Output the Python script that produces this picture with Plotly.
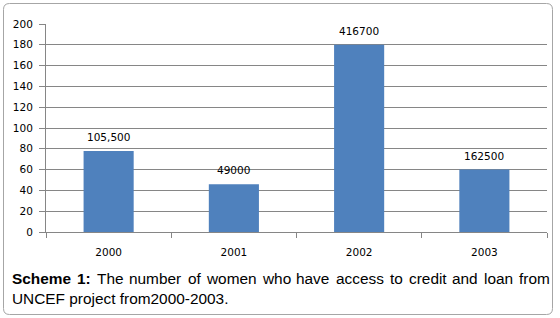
import plotly.graph_objects as go

years = ["2000", "2001", "2002", "2003"]
values = [78, 46, 180, 60]
labels = ["105,500", "49000", "416700", "162500"]
y_ticks = [0, 20, 40, 60, 80, 100, 120, 140, 160, 180, 200]
caption_bold = ["Scheme", "1:"]
caption_line1 = "The number of women who have access to credit and loan from"
caption_line2 = "UNCEF project from2000-2003."

W, H = 560, 318
L, R, T, B = 46, 13, 24, 86
pw, ph = W - L - R, H - T - B

def px(x):
    return (x - L) / pw

def py(y):
    return (H - B - y) / ph

# Arial / Liberation Sans advance widths (1/1000 em) for justifying line 1
REG = {'T': 611, 'h': 556, 'e': 556, 'n': 556, 'u': 556, 'm': 833, 'b': 556, 'r': 333,
       'o': 556, 'f': 278, 'w': 722, 'a': 556, 'v': 500, 'c': 500, 's': 500, 't': 278,
       'd': 556, 'i': 222, 'l': 222}
BOLD = {'S': 667, 'c': 556, 'h': 611, 'e': 556, 'm': 889, '1': 556, ':': 333}

CAP_FONT = 15.4
CAP_FAMILY = "Liberation Sans"
PAD = 2  # annotation box padding in px

def word_width(word, bold):
    table = BOLD if bold else REG
    return sum(table.get(ch, 556) for ch in word) / 1000 * CAP_FONT

words = [(w, True) for w in caption_bold] + [(w, False) for w in caption_line1.split(" ")]
left_px, right_px = 12, 550
total = sum(word_width(w, b) for w, b in words)
gap = (right_px - left_px - total) / (len(words) - 1)

annotations = []
cx = left_px
for w, b in words:
    annotations.append(dict(
        text=f"<b>{w}</b>" if b else w, xref="paper", yref="paper", x=px(cx - PAD), y=py(278),
        xanchor="left", yanchor="middle", showarrow=False,
        font=dict(family=CAP_FAMILY, size=CAP_FONT, color="#000000")))
    cx += word_width(w, b) + gap
annotations.append(dict(
    text=caption_line2, xref="paper", yref="paper", x=px(12 - PAD), y=py(298),
    xanchor="left", yanchor="middle", showarrow=False,
    font=dict(family=CAP_FAMILY, size=CAP_FONT, color="#000000")))

# value labels above bars (category axis: x given as category index)
for i, (v, lab) in enumerate(zip(values, labels)):
    annotations.append(dict(
        text=lab, x=i, y=v, xref="x", yref="y", xanchor="center", yanchor="bottom",
        yshift=6, showarrow=False,
        font=dict(family="DejaVu Sans", size=10.5, color="#000000")))

fig = go.Figure(go.Bar(
    x=years, y=values,
    marker=dict(color="#4F81BD", line=dict(width=0)),
    width=0.4, hoverinfo="x+y",
))

x0, x1, y0, y1, r = 3.5, 552.5, 3.5, 314.5, 6
path = (f"M {px(x0+r)},{py(y0)} L {px(x1-r)},{py(y0)} Q {px(x1)},{py(y0)} {px(x1)},{py(y0+r)} "
        f"L {px(x1)},{py(y1-r)} Q {px(x1)},{py(y1)} {px(x1-r)},{py(y1)} "
        f"L {px(x0+r)},{py(y1)} Q {px(x0)},{py(y1)} {px(x0)},{py(y1-r)} "
        f"L {px(x0)},{py(y0+r)} Q {px(x0)},{py(y0)} {px(x0+r)},{py(y0)} Z")

fig.update_layout(
    width=W, height=H,
    margin=dict(l=L, r=R, t=T, b=B, pad=0),
    paper_bgcolor="white", plot_bgcolor="white",
    showlegend=False,
    font=dict(family="DejaVu Sans", size=10.5, color="#000000"),
    xaxis=dict(
        type="category", categoryorder="array", categoryarray=years,
        range=[-0.5, len(years) - 0.5],
        showgrid=False, showline=True, linecolor="#868686", linewidth=1,
        ticks="outside", tickson="boundaries", ticklen=5, tickcolor="#868686",
        tickfont=dict(family="DejaVu Sans", size=10.5, color="#000000"),
        ticklabelstandoff=10,
    ),
    yaxis=dict(
        range=[0, 200], tickvals=y_ticks, showgrid=True, gridcolor="#868686", gridwidth=1,
        showline=True, linecolor="#868686", linewidth=1,
        ticks="outside", ticklen=6, tickcolor="#868686",
        tickfont=dict(family="DejaVu Sans", size=10.5, color="#000000"),
        ticklabelstandoff=4,
        zeroline=False,
    ),
    shapes=[dict(type="path", xref="paper", yref="paper", path=path,
                 line=dict(color="#A6A6A6", width=1), layer="below")],
    annotations=annotations,
)

fig.write_html("out.html", config={"displayModeBar": False},
               post_script="document.body.style.margin='0';document.body.style.overflow='hidden';")
